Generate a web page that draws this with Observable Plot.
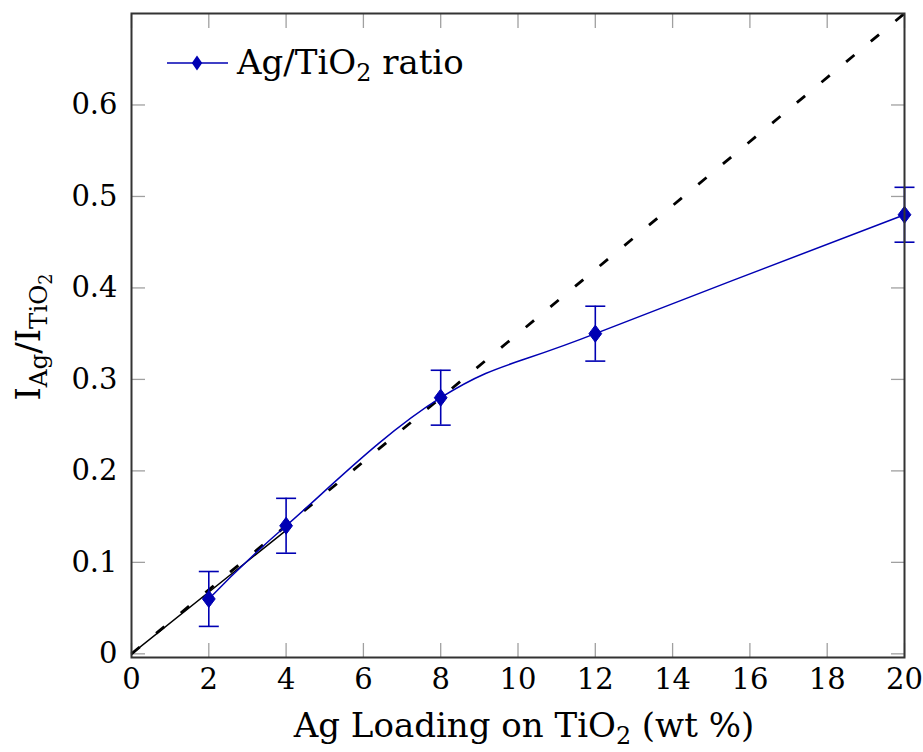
<!DOCTYPE html>
<html><head><meta charset="utf-8">
<script src="https://cdn.jsdelivr.net/npm/d3@7"></script>
<script src="https://cdn.jsdelivr.net/npm/@observablehq/plot@0.6"></script>
<style>body{margin:0;background:#fff} svg{display:block}</style>
</head><body><div id="chart"></div>
<script>
// Data
const loading = [2, 4, 8, 12, 20];
const ratio = [0.06, 0.14, 0.28, 0.35, 0.48];
const errLow = [0.03, 0.11, 0.25, 0.32, 0.45];
const errHigh = [0.09, 0.17, 0.31, 0.38, 0.51];
const refX = [0, 20];
const refY = [0, 0.7];
const fitX = [0, 4];
const fitY = [0, 0.135];
const xTicks = [0, 2, 4, 6, 8, 10, 12, 14, 16, 18, 20];
const yTicks = [0, 0.1, 0.2, 0.3, 0.4, 0.5, 0.6];

const pts = loading.map((x, i) => ({x, y: ratio[i], lo: errLow[i], hi: errHigh[i]}));
const ref = refX.map((x, i) => ({x, y: refY[i]}));
const fit = fitX.map((x, i) => ({x, y: fitY[i]}));

const BLUE = "#0000b3";
const FONT = "DejaVu Serif";
const FS = 29;   // tick labels
const LFS = 34;  // axis labels & legend

const diamond = {draw(ctx, size) {
  const r = Math.sqrt(size / Math.PI);
  ctx.moveTo(0, -r); ctx.lineTo(0.75 * r, 0); ctx.lineTo(0, r); ctx.lineTo(-0.75 * r, 0); ctx.closePath();
}};
const hbar = {draw(ctx, size) {
  const r = Math.sqrt(size / Math.PI);
  ctx.moveTo(-r, 0); ctx.lineTo(r, 0);
}};

const W = 923, H = 752;
const mL = 131, mR = 19, mT = 13, mB = 95;

const chart = Plot.plot({
  width: W, height: H,
  marginLeft: mL, marginRight: mR, marginTop: mT, marginBottom: mB,
  style: {fontFamily: FONT, fontSize: FS + "px", background: "#fff", color: "#000"},
  x: {domain: [0, 20]},
  y: {domain: [-0.004, 0.7]},
  marks: [
    // inward tick marks on all sides
    Plot.axisX(xTicks, {anchor: "bottom", tickSize: -14, text: null, stroke: "#a0a0a0", strokeWidth: 1.3, label: null}),
    Plot.axisX(xTicks, {anchor: "top", tickSize: -14, text: null, stroke: "#a0a0a0", strokeWidth: 1.3, label: null}),
    Plot.axisY(yTicks, {anchor: "left", tickSize: -14, text: null, stroke: "#a0a0a0", strokeWidth: 1.3, label: null}),
    Plot.axisY(yTicks, {anchor: "right", tickSize: -14, text: null, stroke: "#a0a0a0", strokeWidth: 1.3, label: null}),
    // tick labels
    Plot.axisX(xTicks, {anchor: "bottom", tickSize: 0, tickPadding: 11, tickFormat: d => String(d), label: null, fontSize: FS}),
    Plot.axisY(yTicks, {anchor: "left", tickSize: 0, tickPadding: 14, tickFormat: d => d === 0 ? "0" : d.toFixed(1), label: null, fontSize: FS}),
    // reference dashed line
    Plot.line(ref, {x: "x", y: "y", stroke: "#000", strokeWidth: 2.8, strokeDasharray: "10.7 21.3", strokeLinecap: "butt"}),
    // solid black fit line
    Plot.line(fit, {x: "x", y: "y", stroke: "#000", strokeWidth: 1.4}),
    // smooth blue curve
    Plot.line(pts, {x: "x", y: "y", stroke: BLUE, strokeWidth: 1.5, curve: "cardinal", tension: -0.1}),
    // error bars
    Plot.ruleX(pts, {x: "x", y1: "lo", y2: "hi", stroke: BLUE, strokeWidth: 1.6}),
    Plot.dot(pts, {x: "x", y: "lo", symbol: hbar, r: 10, stroke: BLUE, strokeWidth: 1.6, fill: "none"}),
    Plot.dot(pts, {x: "x", y: "hi", symbol: hbar, r: 10, stroke: BLUE, strokeWidth: 1.6, fill: "none"}),
    // markers
    Plot.dot(pts, {x: "x", y: "y", symbol: diamond, r: 8.5, fill: BLUE, stroke: BLUE, strokeWidth: 1}),
    Plot.frame({stroke: "#333", strokeWidth: 2})
  ]
});

document.getElementById("chart").appendChild(chart);
const svg = d3.select(chart);

// x label
const xl = svg.append("text")
  .attr("x", 524).attr("y", 737)
  .attr("text-anchor", "middle")
  .attr("font-family", FONT).attr("font-size", LFS).attr("fill", "#000");
xl.append("tspan").text("Ag Loading on TiO");
xl.append("tspan").attr("dy", 7).attr("font-size", LFS * 0.7).text("2");
xl.append("tspan").attr("dy", -7).text(" (wt %)");

// y label
const yl = svg.append("text")
  .attr("transform", `translate(40,337) rotate(-90)`)
  .attr("text-anchor", "middle")
  .attr("font-family", FONT).attr("font-size", LFS).attr("fill", "#000");
yl.append("tspan").text("I");
yl.append("tspan").attr("dy", 7).attr("font-size", LFS * 0.72).text("Ag");
yl.append("tspan").attr("dy", -7).text("/I");
yl.append("tspan").attr("dy", 7).attr("font-size", LFS * 0.72).text("TiO");
yl.append("tspan").attr("dy", 5).attr("font-size", LFS * 0.52).text("2");

// legend
const lg = svg.append("g");
lg.append("line").attr("x1", 167).attr("x2", 228).attr("y1", 63).attr("y2", 63)
  .attr("stroke", BLUE).attr("stroke-width", 1.5);
lg.append("path").attr("d", "M197,55.5L202.2,63L197,70.5L191.8,63Z").attr("fill", BLUE);
const lt = lg.append("text").attr("x", 237).attr("y", 74)
  .attr("text-anchor", "start")
  .attr("font-family", FONT).attr("font-size", LFS).attr("fill", "#000");
lt.append("tspan").text("Ag/TiO");
lt.append("tspan").attr("dy", 7).attr("font-size", LFS * 0.7).text("2");
lt.append("tspan").attr("dy", -7).text(" ratio");
</script>
</body></html>
